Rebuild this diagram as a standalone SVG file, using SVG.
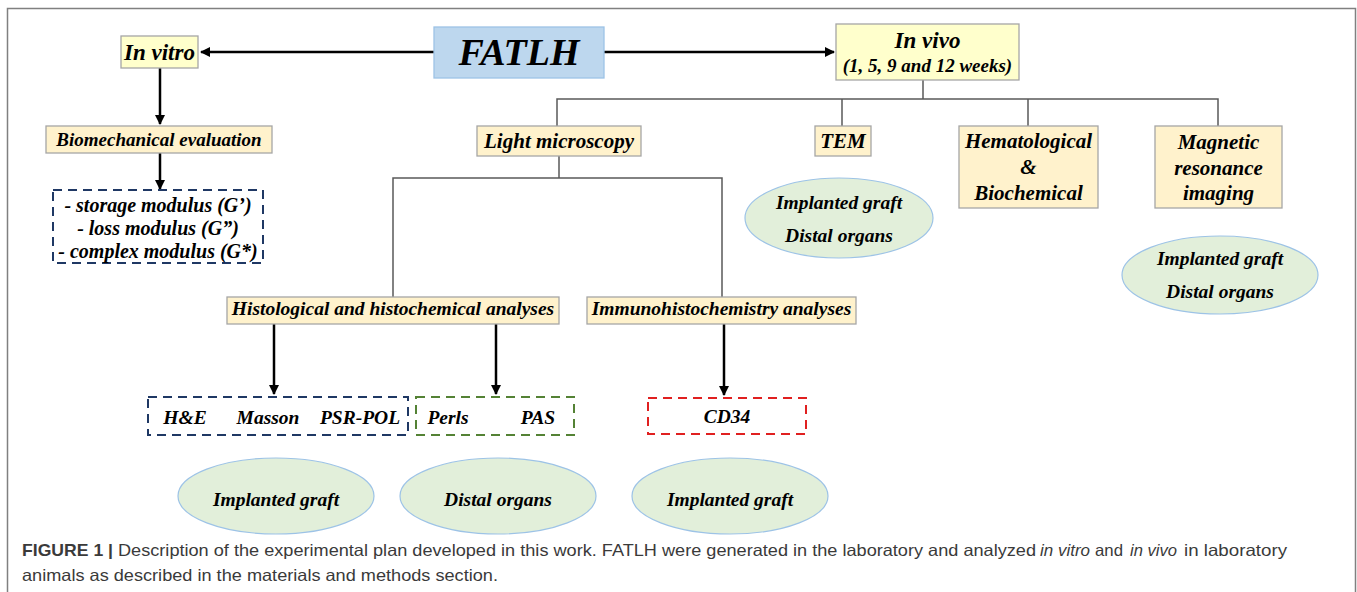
<svg xmlns="http://www.w3.org/2000/svg" width="1357" height="592" viewBox="0 0 1357 592">
<defs>
<marker id="ah" viewBox="0 0 10 10" refX="9" refY="5" markerWidth="4" markerHeight="4" orient="auto" markerUnits="strokeWidth">
<path d="M0,0 L10,5 L0,10 z" fill="#000"/>
</marker>
<style>
.t{font-family:"Liberation Serif","Times New Roman",serif;font-weight:bold;font-style:italic;fill:#000;text-anchor:middle}
.yb{fill:#FFFFCC;stroke:#A6A6A6;stroke-width:1.3}
.tb{fill:#FFF2CC;stroke:#A6A6A6;stroke-width:1.3}
.el{fill:#E2EFDA;stroke:#9DC3E6;stroke-width:1.2}
.arr{stroke:#000;stroke-width:2.5;fill:none;marker-end:url(#ah)}
.tree{stroke:#595959;stroke-width:1.5;fill:none}
.dash{fill:none;stroke-width:2;stroke-dasharray:9,6}
.cap{font-family:"Liberation Sans",Arial,sans-serif;font-size:16.5px;fill:#3a3a3a}
</style>
</defs>
<rect x="0" y="0" width="1357" height="592" fill="#fff"/>
<path d="M7.5,600 V8.5 H1355.5 V600" fill="none" stroke="#808080" stroke-width="1.5"/>

<g id="connectors">
<line class="arr" x1="434" y1="52" x2="201" y2="52"/>
<line class="arr" x1="604" y1="52" x2="834" y2="52"/>
<line class="arr" x1="160" y1="68" x2="160" y2="124"/>
<line class="arr" x1="160" y1="153" x2="160" y2="189"/>
<path class="tree" d="M923,80 V99 M557,126 V99 H1218 V126 M842,99 V126 M1028,99 V126"/>
<path class="tree" d="M559,156 V178 M393,297 V178 H722 V297"/>
<line class="arr" x1="274" y1="324" x2="274" y2="394"/>
<line class="arr" x1="496" y1="324" x2="496" y2="394"/>
<line class="arr" x1="724" y1="324" x2="724" y2="395"/>
</g>

<g id="fatlh">
<rect x="434" y="27" width="170" height="51" fill="#BDD7EE" stroke="#9DC3E6" stroke-width="1.3"/>
<text class="t" x="519" y="65" font-size="38">FATLH</text>
</g>
<g id="invitro">
<rect class="yb" x="121" y="36" width="77" height="32"/>
<text class="t" x="159.5" y="60" font-size="23">In vitro</text>
</g>
<g id="invivo">
<rect class="yb" x="836" y="24" width="183" height="56"/>
<text class="t" x="927.5" y="48" font-size="23">In vivo</text>
<text class="t" x="927.5" y="72" font-size="19">(1, 5, 9 and 12 weeks)</text>
</g>
<g id="biomech">
<rect class="tb" x="46" y="126" width="226" height="27"/>
<text class="t" x="159" y="146" font-size="19">Biomechanical evaluation</text>
</g>
<g id="moduli">
<rect class="dash" x="53" y="190" width="210" height="73" stroke="#1F3864"/>
<text class="t" x="158" y="212" font-size="20">- storage modulus (G’)</text>
<text class="t" x="158" y="235" font-size="20">- loss modulus (G”)</text>
<text class="t" x="158" y="258" font-size="20">- complex modulus (G*)</text>
</g>
<g id="light">
<rect class="tb" x="477" y="126" width="164" height="30"/>
<text class="t" x="559" y="148" font-size="21">Light microscopy</text>
</g>
<g id="tem">
<rect class="tb" x="815" y="126" width="56" height="30"/>
<text class="t" x="843" y="148" font-size="21">TEM</text>
</g>
<g id="hema">
<rect class="tb" x="959" y="126" width="139" height="82"/>
<text class="t" x="1028.5" y="148" font-size="21">Hematological</text>
<text class="t" x="1028.5" y="174" font-size="21">&amp;</text>
<text class="t" x="1028.5" y="200" font-size="21">Biochemical</text>
</g>
<g id="mri">
<rect class="tb" x="1155" y="126" width="127" height="82"/>
<text class="t" x="1218.5" y="149" font-size="21">Magnetic</text>
<text class="t" x="1218.5" y="175" font-size="21">resonance</text>
<text class="t" x="1218.5" y="200" font-size="21">imaging</text>
</g>
<g id="tem-ellipse">
<ellipse class="el" cx="839" cy="218" rx="94" ry="40"/>
<text class="t" x="839" y="209" font-size="19.5">Implanted graft</text>
<text class="t" x="839" y="242" font-size="19.5">Distal organs</text>
</g>
<g id="mri-ellipse">
<ellipse class="el" cx="1220" cy="275" rx="98" ry="39"/>
<text class="t" x="1220" y="265" font-size="19.5">Implanted graft</text>
<text class="t" x="1220" y="298" font-size="19.5">Distal organs</text>
</g>
<g id="histo">
<rect class="tb" x="227" y="297" width="332" height="27"/>
<text class="t" x="393" y="315" font-size="19.5">Histological and histochemical analyses</text>
</g>
<g id="immuno">
<rect class="tb" x="587" y="297" width="269" height="27"/>
<text class="t" x="721.5" y="315" font-size="19.5">Immunohistochemistry analyses</text>
</g>
<g id="stains1">
<rect class="dash" x="148" y="397" width="260" height="38" stroke="#1F3864"/>
<text class="t" x="185" y="424" font-size="19.5">H&amp;E</text>
<text class="t" x="268" y="424" font-size="19.5">Masson</text>
<text class="t" x="360" y="424" font-size="19.5">PSR-POL</text>
</g>
<g id="stains2">
<rect class="dash" x="416" y="397" width="158" height="38" stroke="#548235"/>
<text class="t" x="448" y="424" font-size="19.5">Perls</text>
<text class="t" x="538" y="424" font-size="19.5">PAS</text>
</g>
<g id="cd34">
<rect class="dash" x="648" y="398" width="158" height="36" stroke="#E02020"/>
<text class="t" x="727" y="423" font-size="19.5">CD34</text>
</g>
<g id="ell-graft1">
<ellipse class="el" cx="276" cy="496" rx="98" ry="38"/>
<text class="t" x="276" y="506" font-size="19.5">Implanted graft</text>
</g>
<g id="ell-distal">
<ellipse class="el" cx="498" cy="496" rx="98" ry="38"/>
<text class="t" x="498" y="506" font-size="19.5">Distal organs</text>
</g>
<g id="ell-graft2">
<ellipse class="el" cx="730" cy="496" rx="98" ry="38"/>
<text class="t" x="730" y="506" font-size="19.5">Implanted graft</text>
</g>

<g id="caption">
<text class="cap" x="22" y="556" font-weight="bold" textLength="91" lengthAdjust="spacingAndGlyphs">FIGURE 1 |</text>
<text class="cap" x="118" y="556" textLength="918" lengthAdjust="spacingAndGlyphs">Description of the experimental plan developed in this work. FATLH were generated in the laboratory and analyzed</text>
<text class="cap" x="1040" y="556" font-style="italic" textLength="50" lengthAdjust="spacingAndGlyphs">in vitro</text>
<text class="cap" x="1095" y="556" textLength="28" lengthAdjust="spacingAndGlyphs">and</text>
<text class="cap" x="1130" y="556" font-style="italic" textLength="47" lengthAdjust="spacingAndGlyphs">in vivo</text>
<text class="cap" x="1184" y="556" textLength="103" lengthAdjust="spacingAndGlyphs">in laboratory</text>
<text class="cap" x="22" y="581" textLength="476" lengthAdjust="spacingAndGlyphs">animals as described in the materials and methods section.</text>
</g>
</svg>
